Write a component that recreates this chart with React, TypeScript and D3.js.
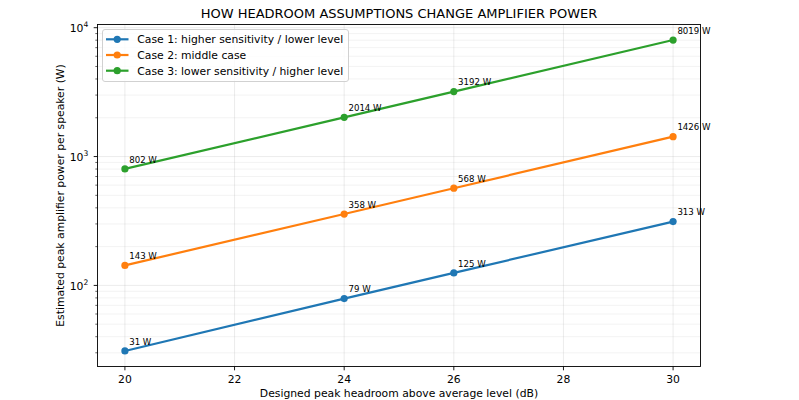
import React from "react";
import * as d3 from "d3";

const headroomDb = [20, 24, 26, 30];
const case1Watts = [31, 79, 125, 313];
const case2Watts = [143, 358, 568, 1426];
const case3Watts = [802, 2014, 3192, 8019];
const seriesNames = [
  "Case 1: higher sensitivity / lower level",
  "Case 2: middle case",
  "Case 3: lower sensitivity / higher level",
];
const seriesColors = ["#1f77b4", "#ff7f0e", "#2ca02c"];
const xTicks = [20, 22, 24, 26, 28, 30];
const yDecades = [2, 3, 4];

const W = 799;
const H = 400;
const M = { left: 97.5, right: 98.5, top: 24.5, bottom: 33.5 };
const FONT = "DejaVu Sans, sans-serif";

export default function App() {
  const series = [case1Watts, case2Watts, case3Watts];
  const all = series.flat();
  const lo = Math.log10(d3.min(all)!);
  const hi = Math.log10(d3.max(all)!);
  const pad = (hi - lo) * 0.05;

  const x = d3.scaleLinear().domain([19.5, 30.5]).range([M.left, W - M.right]);
  const y = d3
    .scaleLog()
    .domain([Math.pow(10, lo - pad), Math.pow(10, hi + pad)])
    .range([H - M.bottom, M.top]);

  const [y0, y1] = y.domain();
  const minorTicks: number[] = [];
  for (let e = Math.floor(Math.log10(y0)); e <= Math.ceil(Math.log10(y1)); e++) {
    for (let m = 2; m <= 9; m++) {
      const v = m * Math.pow(10, e);
      if (v > y0 && v < y1) minorTicks.push(v);
    }
  }

  const line = d3
    .line<number>()
    .x((_, i) => x(headroomDb[i]))
    .y((d) => y(d));

  const plotL = M.left;
  const plotR = W - M.right;
  const plotT = M.top;
  const plotB = H - M.bottom;

  return (
    <svg
      width={W}
      height={H}
      style={{ position: "absolute", left: 0, top: 0, background: "#fff" }}
      fontFamily={FONT}
    >
      {/* grid */}
      <g>
        {minorTicks.map((v) => (
          <line key={"mg" + v} x1={plotL} x2={plotR} y1={y(v)} y2={y(v)} stroke="#b0b0b0" strokeOpacity={0.2} strokeWidth={0.8} />
        ))}
        {yDecades.map((e) => (
          <line key={"yg" + e} x1={plotL} x2={plotR} y1={y(Math.pow(10, e))} y2={y(Math.pow(10, e))} stroke="#b0b0b0" strokeOpacity={0.3} strokeWidth={0.8} />
        ))}
        {xTicks.map((t) => (
          <line key={"xg" + t} x1={x(t)} x2={x(t)} y1={plotT} y2={plotB} stroke="#b0b0b0" strokeOpacity={0.3} strokeWidth={0.8} />
        ))}
      </g>

      {/* series */}
      {series.map((vals, si) => (
        <g key={"s" + si}>
          <path d={line(vals)!} fill="none" stroke={seriesColors[si]} strokeWidth={2.2} strokeLinejoin="round" strokeLinecap="square" />
          {vals.map((v, i) => (
            <circle key={i} cx={x(headroomDb[i])} cy={y(v)} r={3.6} fill={seriesColors[si]} />
          ))}
          {vals.map((v, i) => (
            <text key={"l" + i} x={x(headroomDb[i]) + 4.3} y={y(v) - 6.3} fontSize={8.6} fill="#000">
              {`${v} W`}
            </text>
          ))}
        </g>
      ))}

      {/* axes frame */}
      <rect x={plotL} y={plotT} width={plotR - plotL} height={plotB - plotT} fill="none" stroke="#000" strokeWidth={0.9} />

      {/* x ticks */}
      {xTicks.map((t) => (
        <g key={"xt" + t}>
          <line x1={x(t)} x2={x(t)} y1={plotB} y2={plotB + 3.8} stroke="#000" strokeWidth={0.9} />
          <text x={x(t)} y={plotB + 16.5} textAnchor="middle" fontSize={10.8} fill="#000">
            {t}
          </text>
        </g>
      ))}

      {/* y ticks */}
      {minorTicks.map((v) => (
        <line key={"ym" + v} x1={plotL - 2.2} x2={plotL} y1={y(v)} y2={y(v)} stroke="#000" strokeWidth={0.6} />
      ))}
      {yDecades.map((e) => (
        <g key={"yt" + e}>
          <line x1={plotL - 3.8} x2={plotL} y1={y(Math.pow(10, e))} y2={y(Math.pow(10, e))} stroke="#000" strokeWidth={0.9} />
          <text x={plotL - 14} y={y(Math.pow(10, e)) + 4.5} textAnchor="end" fontSize={10.8} fill="#000">
            10
          </text>
          <text x={plotL - 14} y={y(Math.pow(10, e)) - 0.8} textAnchor="start" fontSize={7.6} fill="#000">
            {e}
          </text>
        </g>
      ))}

      {/* axis labels */}
      <text x={(plotL + plotR) / 2} y={397} textAnchor="middle" fontSize={10.8} fill="#000">
        Designed peak headroom above average level (dB)
      </text>
      <text
        transform={`translate(${64}, ${(plotT + plotB) / 2}) rotate(-90)`}
        textAnchor="middle"
        fontSize={10.8}
        fill="#000"
      >
        Estimated peak amplifier power per speaker (W)
      </text>

      {/* title */}
      <text x={(plotL + plotR) / 2} y={18} textAnchor="middle" fontSize={13} fill="#000">
        HOW HEADROOM ASSUMPTIONS CHANGE AMPLIFIER POWER
      </text>

      {/* legend */}
      <g>
        <rect x={102.5} y={29.5} width={246} height={52} rx={2.5} fill="#fff" fillOpacity={0.8} stroke="#cccccc" strokeWidth={0.9} />
        {seriesNames.map((name, i) => {
          const cy = 39.3 + i * 15.7;
          return (
            <g key={"lg" + i}>
              <line x1={106} x2={128.5} y1={cy} y2={cy} stroke={seriesColors[i]} strokeWidth={2.2} />
              <circle cx={117.2} cy={cy} r={3.6} fill={seriesColors[i]} />
              <text x={137.3} y={cy + 4} fontSize={10.8} fill="#000">
                {name}
              </text>
            </g>
          );
        })}
      </g>
    </svg>
  );
}
